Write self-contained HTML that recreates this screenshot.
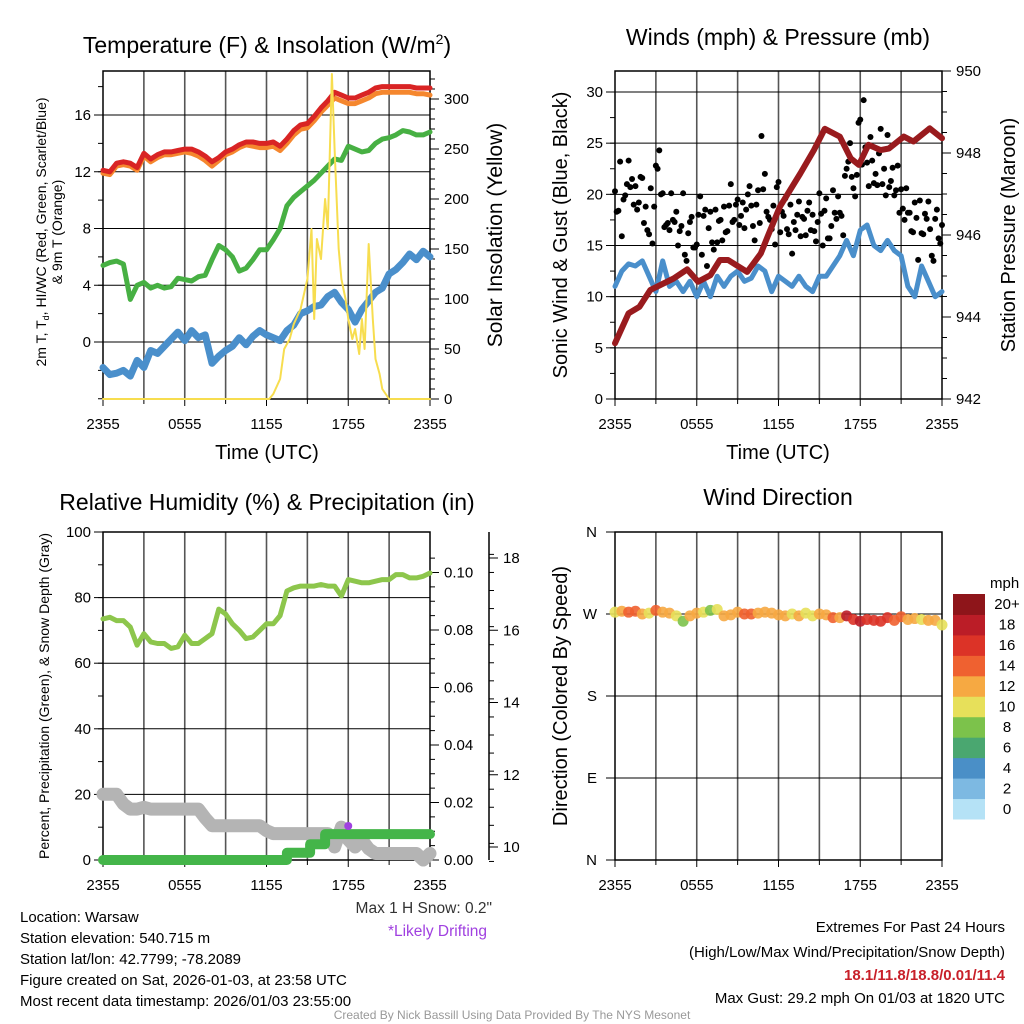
<!DOCTYPE html>
<html><head><meta charset="utf-8"><style>
body{margin:0;background:#fff}
svg{display:block;font-family:"Liberation Sans",sans-serif}
</style></head><body>
<svg id="chart" width="1024" height="1024" viewBox="0 0 1024 1024" xmlns="http://www.w3.org/2000/svg">
<rect width="1024" height="1024" fill="#fff"/>
<g id="layer"></g>
<text x="267" y="53" font-size="23" text-anchor="middle">Temperature (F) &amp; Insolation (W/m<tspan font-size="14" dy="-9">2</tspan><tspan dy="9">)</tspan></text>
<text x="778" y="45" font-size="23" text-anchor="middle">Winds (mph) &amp; Pressure (mb)</text>
<text x="267" y="510" font-size="23" text-anchor="middle">Relative Humidity (%) &amp; Precipitation (in)</text>
<text x="778" y="505" font-size="23" text-anchor="middle">Wind Direction</text>
<text font-size="14" text-anchor="middle" transform="translate(46,232) rotate(-90)">2m T, T<tspan font-size="9" dy="3">d</tspan><tspan dy="-3">, HI/WC (Red, Green, Scarlet/Blue)</tspan></text>
<text font-size="14" text-anchor="middle" transform="translate(62,232) rotate(-90)">&amp; 9m T (Orange)</text>
<text font-size="21" text-anchor="middle" transform="translate(502,235) rotate(-90)">Solar Insolation (Yellow)</text>
<text x="267" y="459" font-size="20" text-anchor="middle">Time (UTC)</text>
<text x="778" y="459" font-size="20" text-anchor="middle">Time (UTC)</text>
<text font-size="20" text-anchor="middle" transform="translate(567,235) rotate(-90)">Sonic Wind &amp; Gust (Blue, Black)</text>
<text font-size="20" text-anchor="middle" transform="translate(1015,235) rotate(-90)">Station Pressure (Maroon)</text>
<text font-size="14" text-anchor="middle" transform="translate(49,696) rotate(-90)">Percent, Precipitation (Green), &amp; Snow Depth (Gray)</text>
<text font-size="20" text-anchor="middle" transform="translate(567,696) rotate(-90)">Direction (Colored By Speed)</text>
<text x="990" y="588" font-size="15">mph</text>
<g font-size="15">
<text x="20" y="922">Location: Warsaw</text>
<text x="20" y="943">Station elevation: 540.715 m</text>
<text x="20" y="964">Station lat/lon: 42.7799; -78.2089</text>
<text x="20" y="985">Figure created on Sat, 2026-01-03, at 23:58 UTC</text>
<text x="20" y="1006">Most recent data timestamp: 2026/01/03 23:55:00</text>
</g>
<text x="492" y="913" font-size="15.5" text-anchor="end" fill="#333">Max 1 H Snow: 0.2"</text>
<text x="487" y="936" font-size="15.5" text-anchor="end" fill="#a040e0">*Likely Drifting</text>
<g font-size="15" text-anchor="end">
<text x="1005" y="932">Extremes For Past 24 Hours</text>
<text x="1005" y="957">(High/Low/Max Wind/Precipitation/Snow Depth)</text>
<text x="1005" y="980" fill="#c8202a" font-weight="bold">18.1/11.8/18.8/0.01/11.4</text>
<text x="1005" y="1003">Max Gust: 29.2 mph On 01/03 at 1820 UTC</text>
</g>
<text x="512" y="1019" font-size="12" fill="#999" text-anchor="middle">Created By Nick Bassill Using Data Provided By The NYS Mesonet</text>
</svg>
<script>
const hours = Array.from({length:49},(_,i)=>i*0.5);
const xTickLabels = ["2355","0555","1155","1755","2355"];
const tempRed = [12.1,12.0,12.6,12.7,12.6,12.3,13.3,12.9,13.2,13.4,13.4,13.5,13.6,13.6,13.4,13.1,12.7,13.0,13.4,13.6,13.9,14.1,14.1,14.0,14.0,14.1,13.8,14.3,14.9,15.3,15.4,15.9,16.5,17.0,17.6,17.4,17.2,17.2,17.4,17.6,17.9,18.0,18.0,18.0,18.0,18.0,17.9,17.9,17.9];
const temp9m = [11.9,11.8,12.4,12.5,12.4,12.1,13.1,12.7,13.0,13.2,13.2,13.3,13.4,13.3,13.1,12.8,12.4,12.8,13.2,13.4,13.7,13.9,13.8,13.7,13.7,13.8,13.5,14.0,14.6,15.0,15.1,15.6,16.2,16.7,17.2,17.0,16.8,16.8,17.0,17.2,17.5,17.6,17.6,17.6,17.6,17.6,17.5,17.5,17.4];
const tempGreen = [5.4,5.6,5.7,5.5,3.0,4.0,4.2,3.8,4.0,3.8,3.9,4.5,4.4,4.3,4.6,4.7,5.8,6.8,6.5,6.0,5.0,5.2,5.8,6.5,6.5,7.2,8.0,9.6,10.2,10.6,11.0,11.4,11.9,12.4,12.9,12.8,13.8,13.6,13.4,13.5,14.0,14.3,14.4,14.6,14.9,14.8,14.6,14.6,14.8];
const dewBlue = [-1.8,-2.3,-2.2,-2.0,-2.4,-1.3,-1.8,-0.6,-0.8,-0.3,0.2,0.7,0.1,0.8,0.3,0.5,-1.5,-1.0,-0.6,-0.3,0.3,-0.2,0.4,0.8,0.5,0.3,0.1,0.8,1.2,2.0,2.2,2.5,2.6,3.2,3.5,2.8,2.3,1.4,2.3,2.9,3.5,3.8,4.8,5.1,5.6,6.2,5.8,6.4,6.0];
const solarHours = [0,12.2,12.5,13,13.3,13.7,14,14.5,15,15.3,15.5,15.7,16,16.3,16.5,16.8,17,17.3,17.5,17.8,18,18.3,18.5,18.8,19,19.2,19.5,19.8,20,20.3,20.5,21,24];
const solar = [0,0,5,20,50,60,75,90,120,170,80,160,140,200,170,325,250,150,120,100,80,60,70,45,80,50,155,80,40,25,10,0,0];
const tempTicks = [0,4,8,12,16];
const solarTicks = [0,50,100,150,200,250,300];

const windBlue = [11,12.5,13.2,13,13.5,12,10.5,13.5,11,11.5,10.5,11.5,10,11.5,10,12,11,12,12.5,11.5,11.8,13,12.5,10.5,12,11.5,11,12,11,10.5,12,12,13,14,15.5,14,16.5,17,15,14.5,15.5,14.5,14,11,10,13,11.5,10,10.5];
const pressHours = [0,1,1.8,2.6,4.3,5.3,6.1,7,7.7,8.3,9.7,10.7,11.2,12.1,13.6,14.6,15.4,16.5,17.3,17.9,18.6,19.5,20.1,21.2,21.9,23.1,24];
const pressure = [943.36,944.09,944.25,944.66,944.94,945.16,944.86,945.02,945.39,945.39,945.1,945.55,945.96,946.69,947.5,948.07,948.59,948.4,947.87,947.71,948.2,948.07,948.11,948.4,948.28,948.6,948.36];
const gustsA = [20.3,18.4,15.9,19.9,23.3,21.5,20.8,19.2,21.6,18.8,16.1,15.2,22.8,24.3,20.1,17.0,16.5,17.5,18.3,16.4,20.1,13.5,17.3,14.8,15.1,19.8,17.9,13.0,18.3,14.6,15.3,17.5,18.8,16.4,21.0,17.5,19.5,17.9,16.7,20.0,18.9,15.5,20.4,25.7,22.0,17.8,16.6,15.1,21.2,18.3,19.6,16.1,14.2,16.5,19.3,17.8,16.0,19.2,18.0,15.4,20.1,15.0,19.6,15.7,20.4,17.6,18.2,16.0,22.5,25.0,20.6,21.9,27.3,29.2,23.1,25.6,21.1,20.9,26.4,22.5,25.8,21.3,19.9,22.8,20.5,17.5,18.2,16.4,19.2,13.6,16.2,18.1,19.3,14.0,17.6,15.7,17.0];
const gustsB = [18.3,23.2,19.5,21.0,20.7,19.0,18.5,21.7,17.2,16.5,20.6,18.8,22.5,20.0,16.8,17.2,20.1,17.3,15.0,16.9,14.1,16.2,17.8,14.8,18.0,14.1,18.5,16.7,15.3,18.5,17.4,15.5,16.3,18.9,17.3,19.0,17.0,19.2,18.5,20.8,16.9,19.0,17.2,20.5,18.3,17.5,18.9,20.7,16.3,17.9,16.6,19.0,17.3,18.0,15.9,17.6,18.4,16.5,16.4,17.3,18.1,18.4,15.7,16.9,18.2,19.8,17.9,21.8,23.2,21.7,19.8,27.0,22.9,24.6,20.8,23.3,22.0,24.0,21.0,19.9,20.7,22.6,20.4,18.2,18.6,20.6,18.2,16.3,17.7,19.4,16.1,17.6,16.6,13.5,18.5,15.2];
const windTicks = [0,5,10,15,20,25,30];
const pressTicks = [942,944,946,948,950];

const rh = [73.5,74,73,73,71,65.5,69,66.5,66,66,64.5,65,68.5,66,66,67.5,69,76.5,75,72,70,67.5,68,70,72,72,74.5,82,83,83.5,83.5,83.5,84,83.5,83.5,80.5,85.5,85,84.5,84.5,85,85.5,85.5,87,87,86,86,86.5,87.5];
const snowDepth = [11.46,11.46,11.46,11.19,11.05,11.05,11.1,11.05,11.05,11.05,11.05,11.05,11.05,11.05,11.05,10.8,10.59,10.59,10.59,10.59,10.59,10.59,10.59,10.59,10.45,10.37,10.37,10.37,10.37,10.37,10.37,10.37,10.37,10.37,10.0,10.55,10.2,10.0,10.2,9.95,9.82,9.82,9.82,9.82,9.82,9.82,9.82,9.64,9.82];
const precipHours = [0,13.5,13.5,15.2,15.2,16.3,16.3,24];
const precip = [0,0,0.0025,0.0025,0.0055,0.0055,0.009,0.009];
const rhTicks = [0,20,40,60,80,100];
const precipTicks = [0,0.02,0.04,0.06,0.08,0.10];
const snowTicks = [10,12,14,16,18];

const dirs = [272,273,272,273,270,271,274,272,271,268,262,268,271,272,274,275,268,269,272,270,270,271,272,271,269,268,270,268,271,268,270,269,266,266,268,264,262,264,263,262,266,263,267,264,265,264,263,263,258];
const dirSpeed = [11,13,14,14,12,11,14,13,12,11,8,12,13,10,9,10,12,12,13,14,15,13,12,12,13,12,11,12,11,10,12,13,14,12,18,17,19,17,17,16,17,15,15,13,12,11,13,12,11];
const dirLabels = ["N","E","S","W","N"];
const speedLabels = ["0","2","4","6","8","10","12","14","16","18","20+"];
const speedColors = ["#b5e2f6","#7db9e2","#4a8fc7","#4aa770","#7cc24b","#e7e05a","#f6a942","#ef6130","#dc3327","#bb1d27","#8e151a"];

const NS="http://www.w3.org/2000/svg";
const layer=document.getElementById('layer');
function mk(tag,attrs,parent){const e=document.createElementNS(NS,tag);for(const k in attrs)e.setAttribute(k,attrs[k]);(parent||layer).appendChild(e);return e;}
function lin(d0,d1,r0,r1){return v=>r0+(v-d0)*(r1-r0)/(d1-d0);}
function pathD(xs,ys,fx,fy){return xs.map((x,i)=>(i?'L':'M')+fx(x).toFixed(1)+','+fy(ys[i]).toFixed(1)).join('');}

function frame(L,R,T,B,name){
  const g=mk('g',{});
  
  
  const fx=lin(0,24,L,R);
  for(let h=3;h<24;h+=3){mk('line',{x1:fx(h),x2:fx(h),y1:T,y2:B,stroke:'#555','stroke-width':1.6},g);}
  mk('rect',{x:L,y:T,width:R-L,height:B-T,fill:'none',stroke:'#000','stroke-width':1.5},g);
  const xt=mk('g',{'font-size':15,'text-anchor':'middle'});
  
  
  xTickLabels.forEach((t,i)=>{const h=i*6;mk('line',{x1:fx(h),x2:fx(h),y1:B,y2:B+7,stroke:'#000'},xt);
    const tx=mk('text',{x:fx(h),y:B+30},xt);tx.textContent=t;});
  for(let h=3;h<24;h+=6)mk('line',{x1:fx(h),x2:fx(h),y1:B,y2:B+5,stroke:'#000'},xt);
  return fx;
}
function hgrid(ticks,fy,L,R){ticks.forEach(t=>mk('line',{x1:L,x2:R,y1:fy(t),y2:fy(t),stroke:'#000','stroke-width':1}));}
function leftTicks(ticks,fy,L,fmt,name,minorStep,lo,hi){
  const g=mk('g',{'font-size':15,'text-anchor':'end'});
  
  
  if(minorStep)for(let v=lo;v<=hi+1e-9;v+=minorStep)mk('line',{x1:L-5,x2:L,y1:fy(v),y2:fy(v),stroke:'#000'},g);
  ticks.forEach(t=>{mk('line',{x1:L-9,x2:L,y1:fy(t),y2:fy(t),stroke:'#000'},g);const e=mk('text',{x:L-12,y:fy(t)+5},g);e.textContent=fmt?fmt(t):t;});
}
function rightTicks(ticks,fy,R,fmt,name,minorStep,lo,hi){
  const g=mk('g',{'font-size':15,'text-anchor':'start'});
  
  
  if(minorStep)for(let v=lo;v<=hi+1e-9;v+=minorStep)mk('line',{x1:R,x2:R+5,y1:fy(v),y2:fy(v),stroke:'#000'},g);
  ticks.forEach(t=>{mk('line',{x1:R,x2:R+9,y1:fy(t),y2:fy(t),stroke:'#000'},g);const e=mk('text',{x:R+14,y:fy(t)+5},g);e.textContent=fmt?fmt(t):t;});
}
function series(xs,ys,fx,fy,color,w,name){
  const p=mk('path',{d:pathD(xs,ys,fx,fy),fill:'none',stroke:color,'stroke-width':w,'stroke-linejoin':'round','stroke-linecap':'round'});
  
  
  return p;
}

(function(){
  const L=103,R=430,T=71,B=399;
  const fx=frame(L,R,T,B,'temp');
  const fy=lin(0,16,342,115);
  const fs=lin(0,300,399,99);
  hgrid(tempTicks,fy,L,R);
  leftTicks(tempTicks,fy,L,null,'temp-y-ticks',2,-4,18);
  rightTicks(solarTicks,fs,R,null,'solar-y-ticks',10,0,320);
  series(hours,dewBlue,fx,fy,'#4a8fcb',7,'dewpoint-line');
  series(hours,tempGreen,fx,fy,'#47b043',5,'heat-index-line');
  series(hours,temp9m,fx,fy,'#f5872e',5,'temp-9m-line');
  series(hours,tempRed,fx,fy,'#d92424',5,'temp-2m-line');
  series(solarHours,solar,fx,fs,'#f7dd4f',2,'solar-line');
})();

(function(){
  const L=615,R=942,T=71,B=399;
  const fx=frame(L,R,T,B,'wind');
  const fy=lin(0,30,399,92);
  const fp=lin(942,950,399,71);
  hgrid(windTicks,fy,L,R);
  leftTicks(windTicks,fy,L,null,'wind-y-ticks',2.5,0,30);
  rightTicks(pressTicks,fp,R,null,'pressure-y-ticks',0.5,942,950);
  series(hours,windBlue,fx,fy,'#4a8fcb',5,'sonic-wind-line');
  const g=mk('g',{});
  
  
  gustsA.forEach((v,i)=>{mk('circle',{cx:fx(i*0.25),cy:fy(v),r:3,fill:'#000'},g);});
  gustsB.forEach((v,i)=>{mk('circle',{cx:fx(i*0.25+0.125),cy:fy(v),r:3,fill:'#000'},g);});
  series(pressHours,pressure,fx,fp,'#991b1e',6,'pressure-line');
})();

(function(){
  const L=103,R=430,T=532,B=860;
  const fx=frame(L,R,T,B,'humidity');
  const fy=lin(0,100,860,532);
  const fpr=lin(0,0.10,860,572.5);
  const fsn=lin(10,18,847,558);
  hgrid(rhTicks,fy,L,R);
  leftTicks(rhTicks,fy,L,null,'rh-y-ticks',10,0,100);
  rightTicks(precipTicks,fpr,R,t=>t.toFixed(2),'precip-y-ticks',0.005,0,0.105);
  const sx=489;
  mk('line',{x1:sx,x2:sx,y1:532,y2:860,stroke:'#000','stroke-width':1.5});
  rightTicks(snowTicks,fsn,sx,null,'snow-y-ticks',0.5,9.6,18.5);
  series(hours,snowDepth,fx,fsn,'#b4b4b4',13,'snow-depth-line');
  series(precipHours,precip,fx,fpr,'#44b549',10,'precip-line');
  const d=mk('circle',{cx:fx(18),cy:826,r:4,fill:'#a040e0'});
  
  
  series(hours,rh,fx,fy,'#8dc64c',5,'rh-line');
})();

(function(){
  const L=615,R=942,T=532,B=860;
  const fx=frame(L,R,T,B,'direction');
  const fd=lin(0,360,860,532);
  hgrid([0,90,180,270,360],fd,L,R);
  const g=mk('g',{'font-size':15,'text-anchor':'end'});
  
  
  dirLabels.forEach((t,i)=>{const v=i*90;mk('line',{x1:L-9,x2:L,y1:fd(v),y2:fd(v),stroke:'#000'},g);const e=mk('text',{x:L-18,y:fd(v)+5},g);e.textContent=t;});
  const dg=mk('g',{});
  
  
  const col=s=>speedColors[Math.min(10,Math.max(0,Math.floor(s/2)))];
  dirs.forEach((v,i)=>{mk('circle',{cx:fx(hours[i]),cy:fd(v),r:5.5,fill:col(dirSpeed[i]),opacity:0.9},dg);});
  const cb=mk('g',{'font-size':15,'text-anchor':'middle'});
  
  
  const top=594,bh=(819-594)/11;
  speedColors.forEach((c,i)=>{const y=top+(10-i)*bh;mk('rect',{x:953,y:y,width:32,height:bh+0.5,fill:c},cb);
    const t=mk('text',{x:1007,y:y+bh/2+5},cb);t.textContent=speedLabels[i];});
})();
</script>
</body></html>
